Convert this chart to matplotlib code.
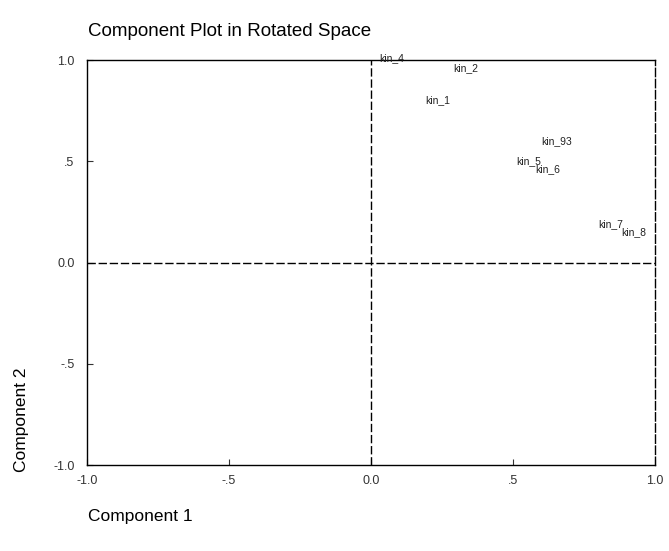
import matplotlib.pyplot as plt

plt.rcParams['font.family'] = ['Liberation Sans', 'DejaVu Sans']

# component loadings
labels = ['kin_4', 'kin_2', 'kin_1', 'kin_93', 'kin_5', 'kin_6', 'kin_7', 'kin_8']
comp1 = [0.03, 0.29, 0.19, 0.60, 0.51, 0.58, 0.80, 0.88]
comp2 = [1.01, 0.96, 0.80, 0.60, 0.50, 0.46, 0.19, 0.15]

tick_vals = [-1.0, -0.5, 0.0, 0.5, 1.0]
tick_text = ['-1.0', '-.5', '0.0', '.5', '1.0']

fig = plt.figure(figsize=(6.69, 5.51), dpi=100)
ax = fig.add_axes([0.130, 0.156, 0.849, 0.735])

for lab, x, y in zip(labels, comp1, comp2):
    ax.text(x, y, lab, fontsize=7.5, color='#222222', ha='left', va='center')

ax.axhline(0, color='black', lw=1.0, ls=(0, (6, 2)))
ax.axvline(0, color='black', lw=1.0, ls=(0, (6, 2)))

ax.set_xlim(-1, 1)
ax.set_ylim(-1, 1)
ax.set_xticks(tick_vals)
ax.set_xticklabels(tick_text)
ax.set_yticks(tick_vals)
ax.set_yticklabels(tick_text)
ax.tick_params(direction='in', length=4, labelsize=9, colors='#333333')
ax.tick_params(axis='y', pad=9)
ax.tick_params(axis='x', pad=7)
for s in ax.spines.values():
    s.set_linewidth(1.0)
ax.spines['right'].set_linestyle((0, (6, 2)))

fig.text(0.132, 0.935, 'Component Plot in Rotated Space', fontsize=13.5, ha='left', va='baseline')
fig.text(0.132, 0.055, 'Component 1', fontsize=12.5, ha='left', va='baseline')
fig.text(0.032, 0.238, 'Component 2', fontsize=12.5, rotation=90, ha='center', va='center')

plt.savefig('out.png', dpi=100)
